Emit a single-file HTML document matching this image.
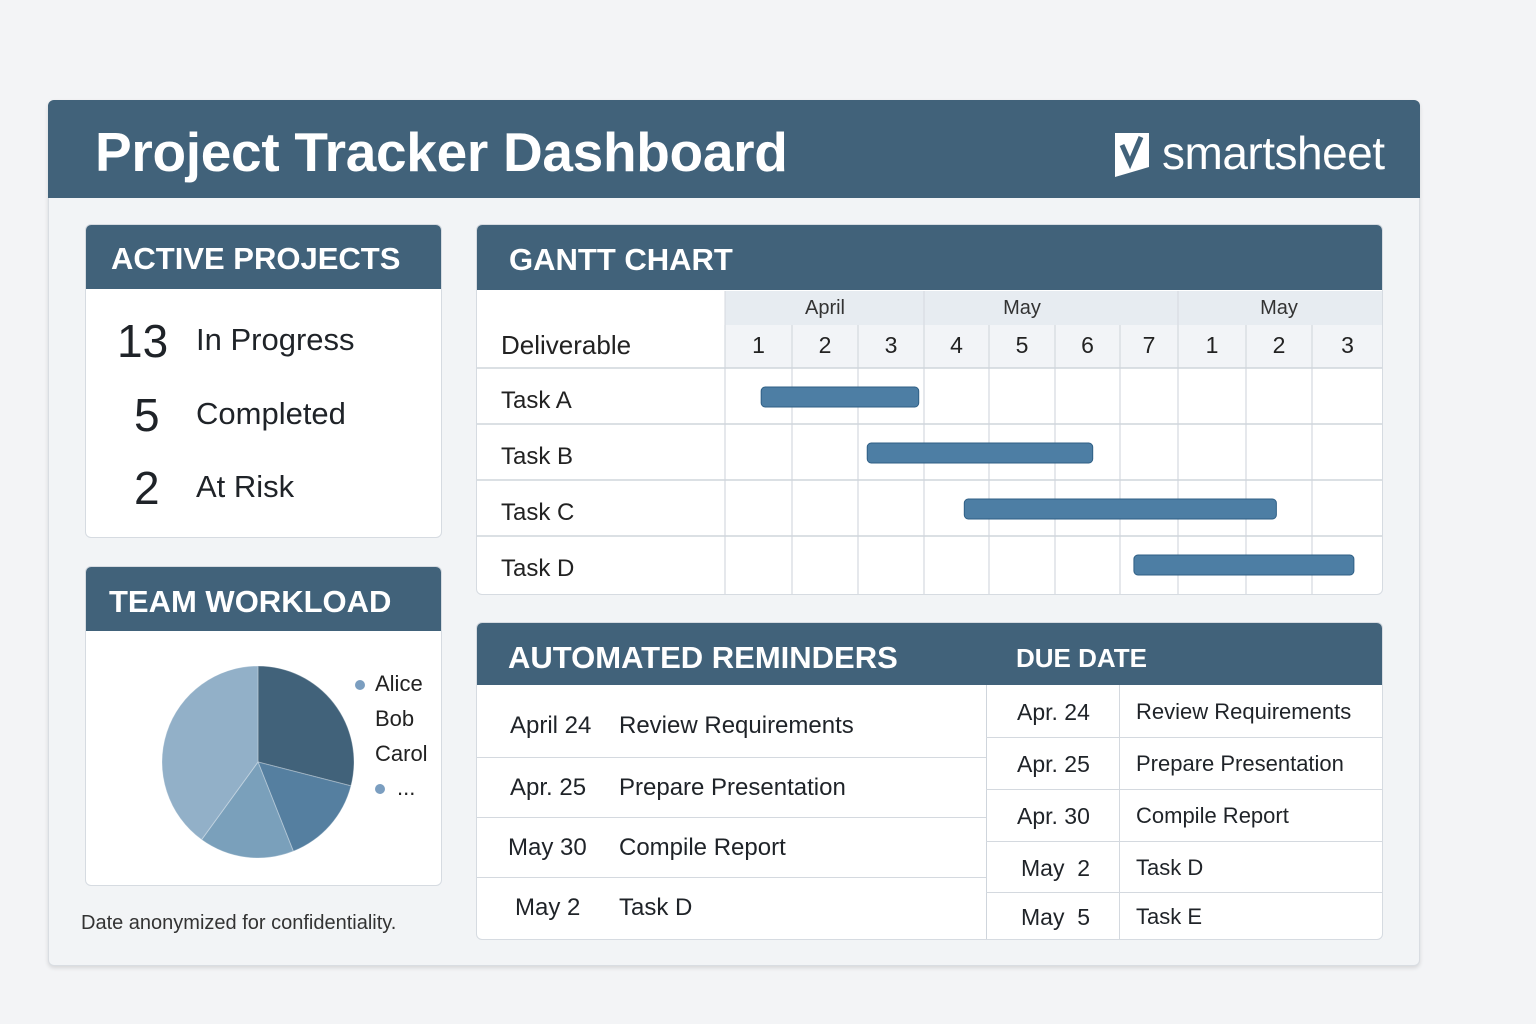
<!DOCTYPE html>
<html><head><meta charset="utf-8"><style>
*{box-sizing:border-box;margin:0;padding:0}
body{width:1536px;height:1024px;background:#f3f4f6;font-family:"Liberation Sans",sans-serif;position:relative;overflow:hidden;color:#1f2328}
.abs{position:absolute}
.card{position:absolute;background:#fff;border:1px solid #d6dbe1;border-radius:6px;overflow:hidden}
.hd{position:absolute;left:0;top:0;right:0;background:#41627a;color:#fff;font-weight:bold}
.t{position:absolute;white-space:nowrap}
</style></head><body>
<div class="abs" style="left:48px;top:100px;width:1372px;height:866px;background:#f2f4f6;border:1px solid #d9dde2;border-radius:6px;box-shadow:0 2px 4px rgba(0,0,0,.12)"></div>
<div class="abs" style="left:48px;top:100px;width:1372px;height:98px;background:#41627a;border-radius:6px 6px 0 0"></div>
<div class="t" style="left:95px;top:120px;font-size:55px;font-weight:bold;color:#fff;letter-spacing:-0.3px">Project Tracker Dashboard</div>
<svg class="abs" style="left:1115px;top:131px" width="36" height="48" viewBox="0 0 36 48"><path d="M0 2 L34 2 L34 36 L0 46 Z" fill="#fff"/><path d="M7 14 L15 32 L26 6" stroke="#41627a" stroke-width="5" fill="none"/></svg>
<div class="t" style="left:1162px;top:126px;font-size:46px;color:#fff;letter-spacing:-0.5px">smartsheet</div>

<div class="card" style="left:85px;top:224px;width:357px;height:314px">
 <div class="hd" style="height:64px;font-size:31px;padding:16px 0 0 25px">ACTIVE PROJECTS</div>
 <div class="t" style="left:31px;top:89px;font-size:46px">13</div>
 <div class="t" style="left:110px;top:97px;font-size:31px">In Progress</div>
 <div class="t" style="left:48px;top:163px;font-size:46px">5</div>
 <div class="t" style="left:110px;top:171px;font-size:31px">Completed</div>
 <div class="t" style="left:48px;top:236px;font-size:46px">2</div>
 <div class="t" style="left:110px;top:244px;font-size:31px">At Risk</div>
</div>

<div class="card" style="left:85px;top:566px;width:357px;height:320px">
 <div class="hd" style="height:64px;font-size:31px;padding:17px 0 0 23px">TEAM WORKLOAD</div>
 <svg id="pie" class="abs" style="left:0;top:0" width="357" height="320"></svg>
</div>
<div class="t" style="left:81px;top:912px;font-size:20px;color:#333">Date anonymized for confidentiality.</div>

<div class="card" style="left:476px;top:224px;width:907px;height:371px">
 <div class="hd" style="height:65px;font-size:31px;padding:17px 0 0 32px">GANTT CHART</div>
 <svg id="gantt" class="abs" style="left:0;top:0" width="907" height="371"></svg>
</div>

<div class="card" style="left:476px;top:622px;width:907px;height:318px">
 <div class="hd" style="height:62px;font-size:31px;padding:17px 0 0 31px">AUTOMATED REMINDERS<span style="position:absolute;left:539px;top:20px;font-size:26px">DUE DATE</span></div>
 <div id="rem"></div>
</div>

<script>
const months=["April","May","May"];
const monthSpans=[3,4,3];
const monthLabelPos=[1.5,4.5,8.5];
const dayLabels=["1","2","3","4","5","6","7","1","2","3"];
const tasks=["Task A","Task B","Task C","Task D"];
const taskStart=[0.54,2.14,3.62,6.24];
const taskEnd=[2.92,5.58,8.46,9.59];
const people=["Alice","Bob","Carol","..."];
const shares=[29,15,16,40];
const pieColors=["#41627a","#557fa0","#7aa0bb","#92b0c8"];
const remDates=["April 24","Apr. 25","May 30","May 2"];
const remTasks=["Review Requirements","Prepare Presentation","Compile Report","Task D"];
const dueDates=["Apr. 24","Apr. 25","Apr. 30","May  2","May  5"];
const dueTasks=["Review Requirements","Prepare Presentation","Compile Report","Task D","Task E"];

const NS="http://www.w3.org/2000/svg";
function mk(parent,tag,attrs,text){const e=document.createElementNS(NS,tag);for(const k in attrs)e.setAttribute(k,attrs[k]);if(text!==undefined)e.textContent=text;parent.appendChild(e);return e;}

(function(){
 const g=document.getElementById('gantt');
 const colB=[248,315,381,447,512,578,643,701,769,835,906];
 function xs(v){const i=Math.min(Math.floor(v),colB.length-2);return colB[i]+(v-i)*(colB[i+1]-colB[i]);}
 const hTop=66,mBot=100,hBot=143,rowH=56;
 let r=mk(g,'rect',{x:248,y:hTop,width:658,height:hBot-hTop,fill:'#e7ecf1'});
 
 
 mk(g,'rect',{x:248,y:mBot,width:658,height:hBot-mBot,fill:'#f2f4f7'});
 let c=0;
 months.forEach((m,i)=>{const x0=xs(c);
  if(i>0)mk(g,'line',{x1:x0,x2:x0,y1:hTop,y2:mBot,stroke:'#d4d9df'});
  const t=mk(g,'text',{x:xs(monthLabelPos[i]),y:89,'text-anchor':'middle','font-size':20,fill:'#333'},m);
  
  
  c+=monthSpans[i];});
 dayLabels.forEach((d,i)=>{const t=mk(g,'text',{x:(xs(i)+xs(i+1))/2,y:128,'text-anchor':'middle','font-size':23,fill:'#222'},d);
  
  });
 for(let i=0;i<=dayLabels.length;i++)mk(g,'line',{x1:xs(i),x2:xs(i),y1:mBot,y2:371,stroke:'#d4d9df','stroke-width':1.2});
 mk(g,'line',{x1:248,x2:248,y1:hTop,y2:371,stroke:'#d4d9df'});
 const dl=mk(g,'text',{x:24,y:129,'font-size':26,fill:'#222'},'Deliverable');
 
 
 tasks.forEach((tk,i)=>{const y=hBot+i*rowH;
  mk(g,'line',{x1:0,x2:907,y1:y,y2:y,stroke:'#cfd5dc','stroke-width':1.5});
  const t=mk(g,'text',{x:24,y:y+40,'font-size':24,fill:'#222'},tk);
  
  
  const b=mk(g,'rect',{x:xs(taskStart[i]),y:y+19,width:xs(taskEnd[i])-xs(taskStart[i]),height:20,rx:4,fill:'#4d7ea4',stroke:'#2f5f85','stroke-width':1});
  
  });
})();

(function(){
 const g=document.getElementById('pie');
 const cx=172,cy=195,R=96,tot=shares.reduce((a,b)=>a+b,0);
 let a0=0;
 shares.forEach((s,i)=>{const a1=a0+s/tot*2*Math.PI;
  const p=(a)=>[cx+R*Math.sin(a),cy-R*Math.cos(a)];
  const [x0,y0]=p(a0),[x1,y1]=p(a1);
  const path=mk(g,'path',{d:`M${cx},${cy}L${x0},${y0}A${R},${R} 0 ${a1-a0>Math.PI?1:0} 1 ${x1},${y1}Z`,fill:pieColors[i],stroke:'#fff','stroke-opacity':0.3,'stroke-width':1});
  
  
  a0=a1;});
 const ly=[124,159,194,228];
 people.forEach((p,i)=>{
  if(i===0||i===3){const d=mk(g,'circle',{cx:i===0?274:294,cy:ly[i]-6,r:5,fill:'#7b9ec0'});
   
   }
  const t=mk(g,'text',{x:i===3?311:289,y:ly[i],'font-size':22,fill:'#222'},p);
  
  });
})();

(function(){
 const host=document.getElementById('rem');
 let h='';
 const lt=[62,134,194,254,317];
 const ldx=[33,33,31,38];
 const ldy=[6,2,2,0];
 remDates.forEach((d,i)=>{
  if(i>0)h+=`<div class="abs" style="left:0;top:${lt[i]}px;width:509px;height:1px;background:#d4d9df"></div>`;
  const mid=(lt[i]+lt[i+1])/2+ldy[i];
  h+=`<div class="t" style="left:${ldx[i]}px;top:${mid-15}px;font-size:24px">${d}</div>`;
  h+=`<div class="t" style="left:142px;top:${mid-15}px;font-size:24px">${remTasks[i]}</div>`;});
 h+=`<div class="abs" style="left:509px;top:62px;width:1px;height:256px;background:#cfd5dc"></div>`;
 h+=`<div class="abs" style="left:642px;top:62px;width:1px;height:256px;background:#d4d9df"></div>`;
 const rt=[62,114,166,218,269,317];
 dueDates.forEach((d,i)=>{
  if(i>0)h+=`<div class="abs" style="left:509px;top:${rt[i]}px;width:398px;height:1px;background:#d4d9df"></div>`;
  const mid=(rt[i]+rt[i+1])/2+2;
  h+=`<div class="t" style="left:${d.startsWith('May')?544:540}px;top:${mid-14}px;font-size:23px;white-space:pre">${d}</div>`;
  h+=`<div class="t" style="left:659px;top:${mid-14}px;font-size:22px">${dueTasks[i]}</div>`;});
 host.innerHTML=h;
})();
</script>
</body></html>
